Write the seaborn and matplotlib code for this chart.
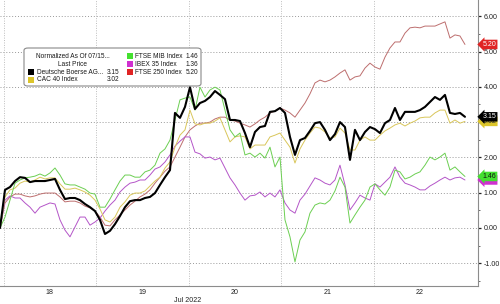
import numpy as np
import pandas as pd
import matplotlib
matplotlib.use("Agg")
import matplotlib.pyplot as plt
from matplotlib.patches import FancyBboxPatch, Rectangle
import seaborn as sns

# ---- data (normalized % change since 07/15) ----
# regular intraday time stamps, expressed in fractional days of July 2022
t = 17.962 + np.arange(94) * 0.05405

deutsche_boerse = [0.0, 1.08, 1.16, 1.33, 1.44, 1.42, 1.30, 1.33, 1.33, 1.33, 1.36, 1.39, 1.08, 0.82, 0.85, 0.85,
                   0.79, 0.68, 0.59, 0.48, 0.23, -0.17, -0.08, 0.11, 0.34, 0.59, 0.76, 0.79, 0.79, 0.85, 0.88, 0.99,
                   1.22, 1.44, 1.64, 3.26, 3.12, 3.43, 3.99, 3.37, 3.54, 3.60, 3.71, 3.88, 3.77, 3.65, 3.06, 3.06,
                   3.03, 2.69, 2.29, 2.72, 2.86, 2.89, 3.29, 3.31, 3.40, 3.26, 2.58, 2.07, 2.49, 2.55, 2.75, 2.97,
                   3.00, 2.78, 2.49, 2.66, 3.00, 2.86, 1.93, 2.78, 2.49, 2.72, 2.86, 2.80, 2.69, 2.97, 3.06, 3.40,
                   3.06, 3.29, 3.29, 3.29, 3.34, 3.43, 3.57, 3.71, 3.63, 3.77, 3.26, 3.23, 3.26, 3.15]
cac40 = [0.0, 0.88, 1.08, 1.13, 1.27, 1.33, 1.30, 1.36, 1.44, 1.39, 1.42, 1.42, 1.25, 1.10, 1.10, 1.13,
         1.08, 1.02, 0.93, 0.79, 0.54, 0.23, 0.17, 0.31, 0.59, 0.74, 0.93, 0.99, 0.99, 1.05, 1.19, 1.33,
         1.44, 1.70, 1.87, 2.29, 2.63, 2.78, 3.34, 2.95, 2.92, 2.97, 2.97, 3.03, 3.12, 2.78, 2.44, 2.58,
         2.61, 2.58, 2.24, 2.35, 2.35, 2.35, 2.58, 2.63, 2.69, 2.49, 2.29, 1.84, 2.24, 2.49, 2.69, 2.86,
         2.83, 2.72, 2.55, 2.58, 2.83, 2.69, 2.21, 2.21, 2.49, 2.58, 2.49, 2.49, 2.63, 2.75, 2.83, 2.92,
         2.97, 2.89, 2.97, 3.03, 3.12, 3.14, 3.14, 3.26, 3.34, 3.34, 2.97, 3.06, 2.97, 3.02]
ftse_mib = [0.0, 0.31, 0.79, 1.27, 1.36, 1.42, 1.44, 1.47, 1.53, 1.47, 1.56, 1.70, 1.50, 1.25, 1.22, 1.22,
            1.16, 1.10, 0.99, 0.96, 0.59, 0.59, 0.82, 1.08, 1.33, 1.50, 1.50, 1.44, 1.44, 1.59, 1.64, 1.78,
            2.12, 2.24, 2.49, 3.06, 3.63, 3.68, 3.71, 3.34, 3.99, 3.71, 3.91, 3.99, 3.91, 3.34, 2.78, 2.58,
            2.69, 2.07, 2.12, 2.01, 2.12, 1.98, 2.29, 1.73, 2.01, 0.23, -0.25, -0.96, -0.34, -0.11, 0.42, 0.65,
            0.71, 0.68, 0.79, 1.05, 1.44, 1.16, 0.14, 0.37, 0.59, 0.79, 1.16, 1.25, 1.08, 0.93, 1.16, 1.64,
            1.59, 1.39, 1.44, 1.53, 1.59, 1.78, 2.01, 1.93, 2.01, 2.12, 1.64, 1.73, 1.59, 1.46]
ibex35 = [0.0, 0.79, 0.91, 0.85, 0.85, 0.71, 0.59, 0.42, 0.59, 0.65, 0.71, 0.68, 0.23, -0.06, -0.25, 0.03,
          0.31, 0.31, 0.08, 0.17, 0.28, 0.48, 0.65, 0.79, 1.02, 1.16, 1.27, 1.30, 1.36, 1.36, 1.50, 1.67,
          1.73, 1.87, 2.07, 2.32, 2.46, 2.58, 2.58, 2.15, 2.10, 1.98, 2.01, 1.93, 1.98, 1.70, 1.42, 1.22,
          0.99, 0.79, 0.91, 0.93, 1.02, 0.88, 0.99, 0.88, 1.08, 0.71, 0.51, 0.42, 0.79, 0.96, 1.19, 1.42,
          1.36, 1.27, 1.22, 1.36, 1.78, 1.22, 0.51, 0.71, 0.93, 0.85, 0.79, 1.25, 1.16, 1.30, 1.44, 1.73,
          1.44, 1.27, 1.22, 1.16, 1.08, 1.08, 1.19, 1.27, 1.36, 1.44, 1.36, 1.42, 1.44, 1.36]
ftse250 = [0.0, 0.71, 0.88, 0.96, 0.96, 0.91, 0.88, 0.91, 0.96, 0.99, 0.99, 0.99, 0.88, 0.74, 0.76, 0.76,
           0.71, 0.62, 0.57, 0.48, 0.31, 0.08, 0.06, 0.23, 0.37, 0.51, 0.65, 0.76, 0.88, 0.96, 1.08, 1.27,
           1.44, 1.61, 1.73, 2.01, 2.29, 2.58, 2.78, 2.89, 2.97, 2.97, 3.00, 3.09, 3.14, 3.14, 3.06, 3.03,
           2.97, 2.92, 2.86, 2.95, 3.06, 3.14, 3.26, 3.31, 3.40, 3.34, 3.26, 3.14, 3.34, 3.54, 3.80, 4.11,
           4.19, 4.14, 4.19, 4.28, 4.39, 4.48, 4.19, 4.28, 4.31, 4.53, 4.67, 4.56, 4.50, 4.84, 5.10, 5.27,
           5.27, 5.52, 5.67, 5.69, 5.67, 5.72, 5.72, 5.72, 5.78, 5.84, 5.38, 5.47, 5.44, 5.20]

series_names = ["Deutsche Boerse AG...", "CAC 40 Index", "FTSE MIB Index", "IBEX 35 Index", "FTSE 250 Index"]
series_values = [deutsche_boerse, cac40, ftse_mib, ibex35, ftse250]
day_ticks = [18, 19, 20, 21, 22]
y_ticks = [-1, 0, 1, 2, 3, 4, 5, 6]

line_colors = {"Deutsche Boerse AG...": "#000000", "CAC 40 Index": "#d9c65a", "FTSE MIB Index": "#6ccf52",
               "IBEX 35 Index": "#b455c8", "FTSE 250 Index": "#bd6e6e"}
key_colors = {"Deutsche Boerse AG...": "#000000", "CAC 40 Index": "#dcc52a", "FTSE MIB Index": "#44e030",
              "IBEX 35 Index": "#d030d0", "FTSE 250 Index": "#e02424"}
line_widths = {"Deutsche Boerse AG...": 1.5, "CAC 40 Index": 0.7, "FTSE MIB Index": 0.7,
               "IBEX 35 Index": 0.7, "FTSE 250 Index": 0.7}

df = pd.concat([pd.DataFrame({"t": t, "v": vals, "series": name})
                for name, vals in zip(series_names, series_values)], ignore_index=True)

# ---- figure ----
sns.set_style("white")
plt.rcParams["font.family"] = ["Liberation Sans", "DejaVu Sans"]
W, H = 500, 304
fig = plt.figure(figsize=(5.0, 3.04), dpi=100)
ax = fig.add_axes([0.0, 1 - 286 / H, 478 / W, 286 / H])

draw_order = ["FTSE 250 Index", "IBEX 35 Index", "CAC 40 Index", "FTSE MIB Index", "Deutsche Boerse AG..."]
for name in draw_order:
    sub = df[df["series"] == name]
    sns.lineplot(data=sub, x="t", y="v", color=line_colors[name], lw=line_widths[name],
                 ax=ax, estimator=None, sort=False, legend=False, zorder=3)

ax.set_xlim(17.962, 17.962 + 478 / 92.5)
ax.set_ylim((228 - 286) / 35.3, 228 / 35.3)
ax.set_xlabel("")
ax.set_ylabel("")

# grid
for yv in y_ticks:
    ax.axhline(yv, color="#9a9a9a", lw=0.7, ls=(0, (1, 2)), zorder=1)
for d in day_ticks:
    ax.axvline(d, color="#bdbdbd", lw=0.7, ls=(0, (1, 1.5)), zorder=1)

# spines
for s in ["top", "left"]:
    ax.spines[s].set_visible(False)
for s in ["right", "bottom"]:
    ax.spines[s].set_color("#8c8c8c")
    ax.spines[s].set_linewidth(0.8)

# y axis on the right
ax.yaxis.tick_right()
ax.set_yticks(y_ticks)
ax.set_yticklabels([f"{v:.2f}" for v in y_ticks])
ax.set_yticks(np.arange(-1.5, 6.5, 0.5), minor=True)
ax.tick_params(axis="y", which="major", direction="out", length=2.5, width=0.9, color="#222222",
               labelsize=5.1, pad=1.5, labelcolor="#222222")
ax.tick_params(axis="y", which="minor", direction="out", length=1.5, width=0.6, color="#555555")

# x axis: day labels at mid-day
ax.set_xticks([d + 0.5 for d in day_ticks])
ax.set_xticklabels([str(d) for d in day_ticks])
ax.tick_params(axis="x", which="major", length=0, labelsize=5.1, pad=2.2, labelcolor="#222222")
fig.text(188 / W, 1 - 300 / H, "Jul 2022", ha="center", va="center", fontsize=5.1, color="#222222")

# last-price tags on right axis (stacked as in the terminal view)
label_text_color = {"Deutsche Boerse AG...": "white", "CAC 40 Index": "#333333", "FTSE MIB Index": "#111111",
                    "IBEX 35 Index": "white", "FTSE 250 Index": "white"}
tag_order = ["CAC 40 Index", "IBEX 35 Index", "FTSE 250 Index", "FTSE MIB Index", "Deutsche Boerse AG..."]
for name in tag_order:
    last = series_values[series_names.index(name)][-1]
    ax.annotate(f"{last:.2f}", xy=(1.0, last), xycoords=("axes fraction", "data"),
                xytext=(3.2, 0), textcoords="offset points", ha="left", va="center",
                fontsize=5.0, color=label_text_color[name], annotation_clip=False, zorder=10,
                bbox=dict(boxstyle="larrow,pad=0.18", fc=key_colors[name], ec="none"))

# legend box
fig.patches.append(FancyBboxPatch((24 / W, 1 - 86 / H), 177 / W, 38 / H,
                                  boxstyle="round,pad=0,rounding_size=0.008",
                                  transform=fig.transFigure, fc="white", ec="#8a8a8a", lw=0.8, zorder=20))
fs = 4.7
txt_kw = dict(fontsize=fs, color="#1a1a1a", zorder=21, va="center")
fig.text(73 / W, 1 - 56 / H, "Normalized As Of 07/15...", ha="center", **txt_kw)
fig.text(73 / W, 1 - 64 / H, "Last Price", ha="center", **txt_kw)
entries = [("Deutsche Boerse AG...", 31, 72, 37, 119), ("CAC 40 Index", 31, 80, 37, 119),
           ("FTSE MIB Index", 130, 56, 135, 198), ("IBEX 35 Index", 130, 64, 135, 198),
           ("FTSE 250 Index", 130, 72, 135, 198)]
for name, sx, sy, tx, vx in entries:
    last = series_values[series_names.index(name)][-1]
    fig.patches.append(Rectangle(((sx - 3) / W, 1 - (sy + 3) / H), 6 / W, 6 / H,
                                 transform=fig.transFigure, fc=key_colors[name], ec="none", zorder=21))
    fig.text(tx / W, 1 - sy / H, name, ha="left", **txt_kw)
    fig.text(vx / W, 1 - sy / H, f"{last:.2f}", ha="right", **txt_kw)

fig.savefig("out.png", dpi=100)
